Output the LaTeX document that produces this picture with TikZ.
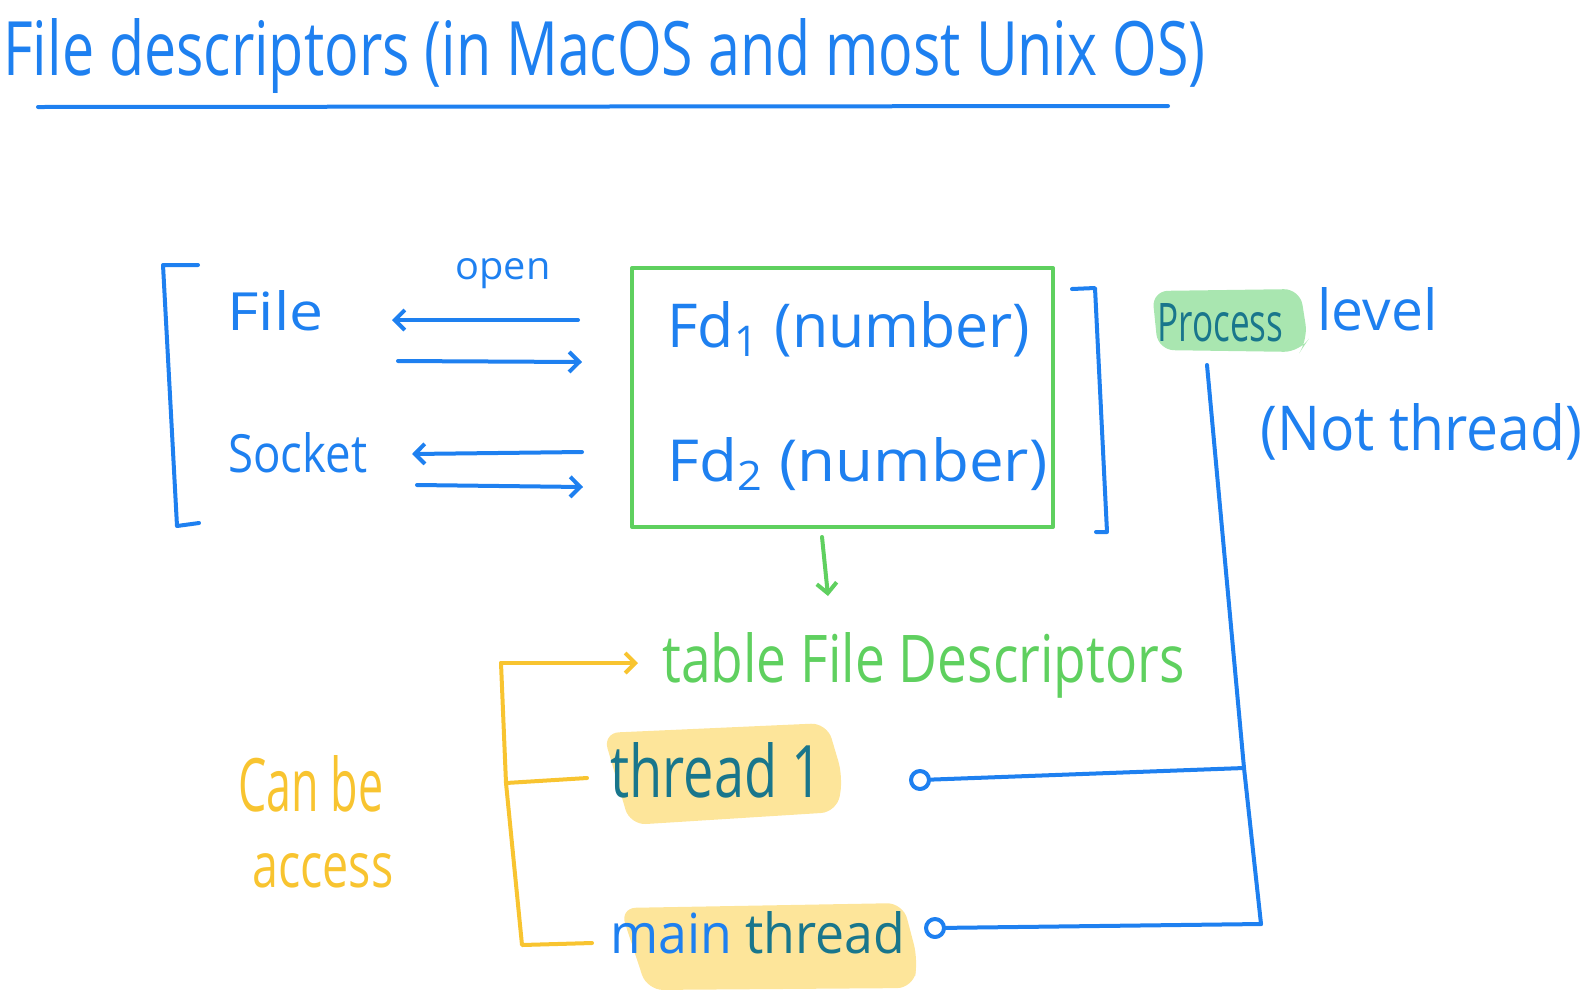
\documentclass[tikz,border=0pt]{standalone}
\usepackage{fontspec}
\setmainfont{Open Sans}
\usetikzlibrary{arrows.meta}
\definecolor{penblue}{RGB}{30,128,240}
\definecolor{pengreen}{RGB}{95,208,95}
\definecolor{penyellow}{RGB}{248,196,48}
\definecolor{hlyellow}{RGB}{253,220,120}
\definecolor{hlgreen}{RGB}{140,222,150}
\definecolor{penteal}{RGB}{25,118,140}
% width and height (above the baseline) in picture pixels
\newcommand\tx[3]{\resizebox{\dimexpr #1pt/2\relax}{\dimexpr #2pt/2\relax}{#3}}
\tikzset{
  pen/.style={line width=2pt, line cap=round, line join=round},
  bluepen/.style={pen, draw=penblue},
  greenpen/.style={pen, draw=pengreen},
  yellowpen/.style={pen, draw=penyellow},
  tip/.style={-{Straight Barb[length=5pt,width=10pt,line width=2pt]}},
  txt/.style={inner sep=0pt, anchor=base west, font=\fontsize{20}{24}\selectfont},
  hl/.style={rounded corners=8pt, opacity=0.75},
}
\begin{document}
\begin{tikzpicture}[x=0.5pt,y=-0.5pt]
\useasboundingbox (0,0) rectangle (1588,1002);
% title
\node[txt, text=penblue] (title) at (3,75) {\tx{1202}{57}{File descriptors (in MacOS and most Unix OS)}};
\coordinate (ulA) at (38,107);
\coordinate (ulB) at (1168,106);
\draw[bluepen] (ulA) -- (ulB);

% left bracket
\coordinate (lb1) at (198,265);
\coordinate (lb2) at (163,265);
\coordinate (lb3) at (177,526);
\coordinate (lb4) at (199,523);
\draw[bluepen] (lb1) -- (lb2) -- (lb3) -- (lb4);

\node[txt, text=penblue] (file) at (227,330) {\tx{96}{40}{File}};
\node[txt, text=penblue] (socket) at (228,472) {\tx{139}{40}{Socket}};
\node[txt, text=penblue] (open) at (455,279) {\tx{95}{21}{open}};

% arrows
\coordinate (a1s) at (578,320); \coordinate (a1e) at (392,320);
\coordinate (a2s) at (398,361); \coordinate (a2e) at (582,362);
\coordinate (a3s) at (582,452); \coordinate (a3e) at (412,454);
\coordinate (a4s) at (417,485); \coordinate (a4e) at (583,487);
\draw[bluepen, tip] (a1s) -- (a1e);
\draw[bluepen, tip] (a2s) -- (a2e);
\draw[bluepen, tip] (a3s) -- (a3e);
\draw[bluepen, tip] (a4s) -- (a4e);

% green box
\node[greenpen, draw, minimum width=421*0.5pt, minimum height=259*0.5pt, inner sep=0pt] (fdbox) at (842.5,397.5) {};
\node[txt, text=penblue] (fd1) at (667,347) {\tx{363}{46}{Fd\textsubscript{1} (number)}};
\node[txt, text=penblue] (fd2) at (667,481) {\tx{380}{44}{Fd\textsubscript{2} (number)}};

% right bracket
\coordinate (rb1) at (1072,289);
\coordinate (rb2) at (1095,288);
\coordinate (rb3) at (1107,532);
\coordinate (rb4) at (1096,532);
\draw[bluepen] (rb1) -- (rb2) -- (rb3) -- (rb4);

% process level
\fill[hlgreen, hl] (1152,291) -- (1300,289) -- (1308,340) -- (1300,352) -- (1158,350) -- cycle;
\node[txt, text=penteal] (process) at (1157,341) {\tx{126}{38}{Process}};
\node[txt, text=penblue] (level) at (1317,330) {\tx{120}{43}{level}};
\node[txt, text=penblue] (notthread) at (1260,450) {\tx{322}{47}{(Not thread)}};

% green arrow and table label
\coordinate (ga) at (822,537);
\node[txt, text=pengreen] (table) at (662,682) {\tx{522}{50}{table File Descriptors}};
\coordinate (gb) at (828,596);
\draw[greenpen, tip] (ga) -- (gb);

% threads
\fill[hlyellow, hl] (603,733) -- (827,723) -- (843,777) -- (837,812) -- (630,825) -- cycle;
\node[txt, text=penteal] (t1) at (610,797) {\tx{212}{55}{thread 1}};
\fill[hlyellow, hl] (620,908) -- (903,903) -- (918,960) -- (913,988) -- (647,990) -- cycle;
\node[txt] (mt) at (610,953) {\tx{295}{42}{\textcolor{penblue}{main} \textcolor{penteal}{thread}}};

\node[txt, text=penyellow] (canbe) at (238,811) {\tx{145}{56}{Can be}};
\node[txt, text=penyellow] (access) at (252,887) {\tx{141}{34}{access}};

% yellow bracket
\coordinate (y1) at (501,663);
\coordinate (y2) at (638,663);
\coordinate (y3) at (506,783);
\coordinate (y4) at (587,778);
\coordinate (y5) at (522,945);
\coordinate (y6) at (592,943);
\draw[yellowpen, tip] (y1) -- (y2);
\draw[yellowpen] (y1) -- (y3) -- (y4);
\draw[yellowpen] (y3) -- (y5) -- (y6);

% process line
\node[bluepen, draw, circle, minimum size=9pt, inner sep=0pt] (c1) at (920,780) {};
\node[bluepen, draw, circle, minimum size=9pt, inner sep=0pt] (c2) at (935,928) {};
\coordinate (p0) at (1207,365);
\coordinate (p1) at (1244,768);
\coordinate (p2) at (1261,924);
\draw[bluepen] (p0) -- (p1) -- (p2);
\draw[bluepen] (c1) -- (p1);
\draw[bluepen] (c2) -- (p2);
\end{tikzpicture}
\end{document}
